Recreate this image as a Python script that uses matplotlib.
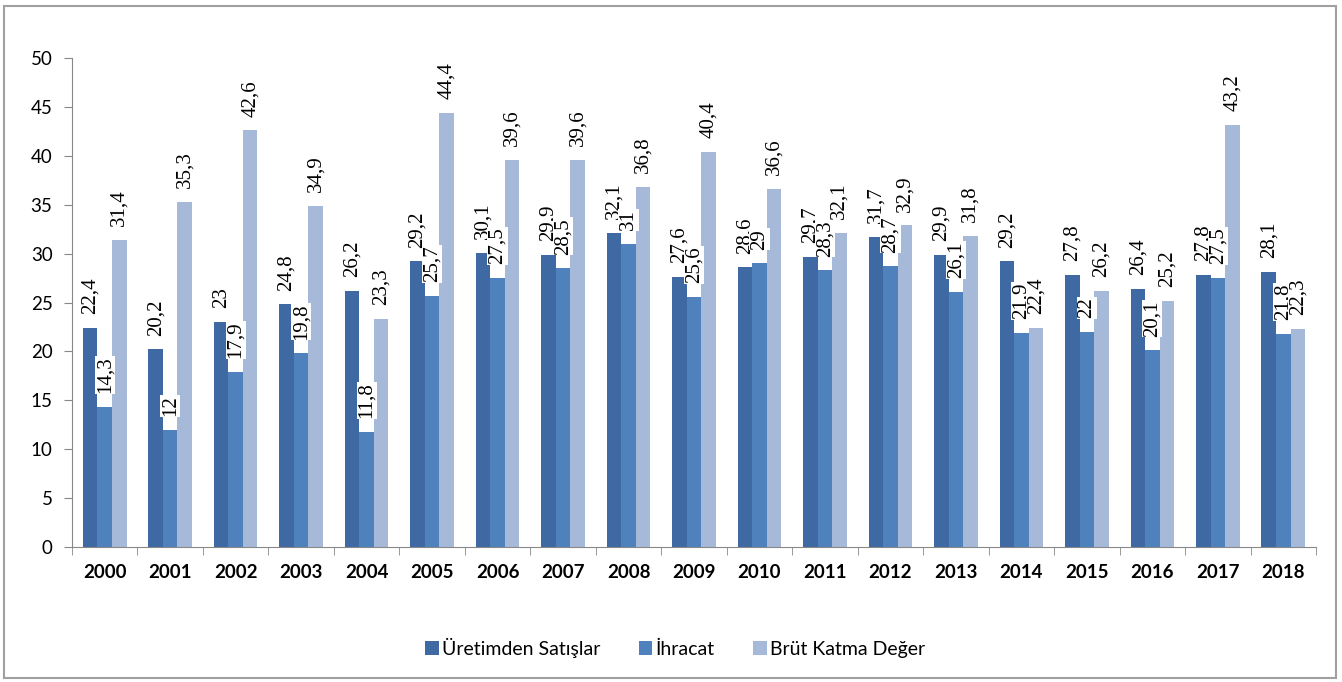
import matplotlib
matplotlib.use("Agg")
import matplotlib.pyplot as plt
import numpy as np
from matplotlib.patches import Rectangle

years = ["2000", "2001", "2002", "2003", "2004", "2005", "2006", "2007", "2008", "2009",
         "2010", "2011", "2012", "2013", "2014", "2015", "2016", "2017", "2018"]
uretim = [22.4, 20.2, 23, 24.8, 26.2, 29.2, 30.1, 29.9, 32.1, 27.6,
          28.6, 29.7, 31.7, 29.9, 29.2, 27.8, 26.4, 27.8, 28.1]
ihracat = [14.3, 12, 17.9, 19.8, 11.8, 25.7, 27.5, 28.5, 31, 25.6,
           29, 28.3, 28.7, 26.1, 21.9, 22, 20.1, 27.5, 21.8]
brut = [31.4, 35.3, 42.6, 34.9, 23.3, 44.4, 39.6, 39.6, 36.8, 40.4,
        36.6, 32.1, 32.9, 31.8, 22.4, 26.2, 25.2, 43.2, 22.3]
series_names = ["Üretimden Satışlar", "İhracat", "Brüt Katma Değer"]
colors = ["#3F69A2", "#4F81BD", "#A7B9D9"]

fig = plt.figure(figsize=(13.42, 6.82), dpi=100)
ax = fig.add_axes([72 / 1342, 1 - 547 / 682, (1316 - 72) / 1342, (547 - 58) / 682])

# outer frame like the exported chart area
fig.patches.append(Rectangle((4 / 1342, 4 / 682), 1332 / 1342, 672 / 682,
                             transform=fig.transFigure, fill=False,
                             ec="#A0A0A0", lw=1.5))

x = np.arange(len(years))
w = 0.222
for i, (vals, name, c) in enumerate(zip([uretim, ihracat, brut], series_names, colors)):
    pos = x + (i - 1) * w
    ax.bar(pos, vals, width=w, color=c, label=name, zorder=2)
    for px, v in zip(pos, vals):
        txt = f"{v:g}".replace(".", ",")
        ax.text(px, v + 1.4, txt, rotation=90, ha="center", va="bottom",
                fontsize=15, family="Liberation Serif", zorder=3,
                bbox=dict(boxstyle="square,pad=0.03", fc="white", ec="none"))

ax.set_xlim(-0.5, len(years) - 0.5)
ax.set_ylim(0, 50)
ax.set_yticks(np.arange(0, 51, 5))
ax.set_yticklabels([str(v) for v in range(0, 51, 5)], fontsize=13.5, family="Lato")
ax.set_xticks(x)
ax.set_xticklabels(years, fontsize=13.5, family="Lato", fontweight="bold")
ax.tick_params(axis="x", length=0, pad=12)
ax.set_xticks(np.arange(-0.5, len(years), 1), minor=True)
ax.tick_params(axis="x", which="minor", length=6, color="#888888")
ax.tick_params(axis="y", length=6, color="#888888", pad=8)
for s in ["top", "right"]:
    ax.spines[s].set_visible(False)
for s in ["left", "bottom"]:
    ax.spines[s].set_color("#888888")

leg = fig.legend(loc="center", bbox_to_anchor=(0.503, 1 - 648 / 682), ncol=3,
                 frameon=False, prop={"family": "Lato", "size": 14},
                 handlelength=0.7, handleheight=0.7, handletextpad=0.15, columnspacing=2.0)

fig.savefig("out.png", dpi=100)
